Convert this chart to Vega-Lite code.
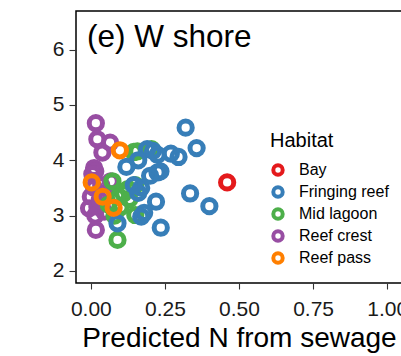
{
  "$schema": "https://vega.github.io/schema/vega-lite/v6.json",
  "autosize": {"type": "none"},
  "padding": {"left": 76, "top": 11, "right": 0, "bottom": 73},
  "width": 326,
  "height": 272,
  "background": "white",
  "config": {
    "font": "Liberation Sans",
    "view": {"stroke": "black", "strokeWidth": 1.5},
    "axis": {"domain": false, "grid": false, "tickColor": "#333333", "tickSize": 6, "tickWidth": 1.1, "labelColor": "#1a1a1a", "labelFont": "Liberation Sans", "titleFont": "Liberation Sans", "titleFontWeight": "normal", "titleColor": "black"}
  },
  "title": {"text": "(e) W shore", "anchor": "start", "frame": "group", "fontSize": 31.5, "fontWeight": "normal", "font": "Liberation Sans", "color": "black", "baseline": "alphabetic", "offset": 0, "dx": 11, "dy": 67},
  "data": {"values": [
    {"n": 0.017, "v": 4.67, "Habitat": "Reef crest"},
    {"n": 0.022, "v": 4.38, "Habitat": "Reef crest"},
    {"n": 0.065, "v": 4.32, "Habitat": "Reef crest"},
    {"n": 0.039, "v": 4.14, "Habitat": "Reef crest"},
    {"n": 0.011, "v": 3.86, "Habitat": "Reef crest"},
    {"n": 0.015, "v": 3.8, "Habitat": "Reef crest"},
    {"n": 0.005, "v": 3.75, "Habitat": "Reef crest"},
    {"n": 0.067, "v": 3.62, "Habitat": "Reef crest"},
    {"n": 0.011, "v": 3.5, "Habitat": "Reef crest"},
    {"n": 0.0, "v": 3.34, "Habitat": "Reef crest"},
    {"n": -0.006, "v": 3.13, "Habitat": "Reef crest"},
    {"n": 0.022, "v": 3.16, "Habitat": "Reef crest"},
    {"n": 0.045, "v": 3.07, "Habitat": "Reef crest"},
    {"n": 0.015, "v": 3.0, "Habitat": "Reef crest"},
    {"n": 0.017, "v": 2.74, "Habitat": "Reef crest"},
    {"n": 0.03, "v": 3.28, "Habitat": "Reef crest"},
    {"n": 0.05, "v": 3.4, "Habitat": "Reef crest"},
    {"n": 0.035, "v": 3.55, "Habitat": "Reef crest"},
    {"n": 0.157, "v": 4.16, "Habitat": "Mid lagoon"},
    {"n": 0.205, "v": 4.2, "Habitat": "Mid lagoon"},
    {"n": 0.15, "v": 3.55, "Habitat": "Mid lagoon"},
    {"n": 0.15, "v": 3.01, "Habitat": "Mid lagoon"},
    {"n": 0.073, "v": 3.62, "Habitat": "Mid lagoon"},
    {"n": 0.095, "v": 3.34, "Habitat": "Mid lagoon"},
    {"n": 0.11, "v": 3.4, "Habitat": "Mid lagoon"},
    {"n": 0.125, "v": 3.48, "Habitat": "Mid lagoon"},
    {"n": 0.09, "v": 2.56, "Habitat": "Mid lagoon"},
    {"n": 0.06, "v": 3.2, "Habitat": "Mid lagoon"},
    {"n": 0.1, "v": 3.15, "Habitat": "Mid lagoon"},
    {"n": 0.13, "v": 3.3, "Habitat": "Mid lagoon"},
    {"n": 0.145, "v": 4.15, "Habitat": "Mid lagoon"},
    {"n": 0.08, "v": 3.0, "Habitat": "Mid lagoon"},
    {"n": 0.32, "v": 4.59, "Habitat": "Fringing reef"},
    {"n": 0.357, "v": 4.22, "Habitat": "Fringing reef"},
    {"n": 0.27, "v": 4.12, "Habitat": "Fringing reef"},
    {"n": 0.296, "v": 4.06, "Habitat": "Fringing reef"},
    {"n": 0.21, "v": 4.17, "Habitat": "Fringing reef"},
    {"n": 0.19, "v": 4.2, "Habitat": "Fringing reef"},
    {"n": 0.225, "v": 4.1, "Habitat": "Fringing reef"},
    {"n": 0.16, "v": 4.0, "Habitat": "Fringing reef"},
    {"n": 0.12, "v": 3.88, "Habitat": "Fringing reef"},
    {"n": 0.225, "v": 3.78, "Habitat": "Fringing reef"},
    {"n": 0.235, "v": 3.8, "Habitat": "Fringing reef"},
    {"n": 0.17, "v": 3.5, "Habitat": "Fringing reef"},
    {"n": 0.16, "v": 3.41, "Habitat": "Fringing reef"},
    {"n": 0.335, "v": 3.4, "Habitat": "Fringing reef"},
    {"n": 0.4, "v": 3.17, "Habitat": "Fringing reef"},
    {"n": 0.22, "v": 3.25, "Habitat": "Fringing reef"},
    {"n": 0.18, "v": 3.05, "Habitat": "Fringing reef"},
    {"n": 0.236, "v": 2.78, "Habitat": "Fringing reef"},
    {"n": 0.09, "v": 2.86, "Habitat": "Fringing reef"},
    {"n": 0.17, "v": 2.98, "Habitat": "Fringing reef"},
    {"n": 0.145, "v": 3.55, "Habitat": "Fringing reef"},
    {"n": 0.2, "v": 3.72, "Habitat": "Fringing reef"},
    {"n": 0.098, "v": 4.18, "Habitat": "Reef pass"},
    {"n": 0.003, "v": 3.6, "Habitat": "Reef pass"},
    {"n": 0.04, "v": 3.34, "Habitat": "Reef pass"},
    {"n": 0.077, "v": 3.14, "Habitat": "Reef pass"},
    {"n": 0.46, "v": 3.6, "Habitat": "Bay"}
  ]},
  "mark": {"type": "point", "shape": "circle", "filled": false, "size": 175, "strokeWidth": 5, "opacity": 1},
  "encoding": {
    "x": {"field": "n", "type": "quantitative", "title": "Predicted N from sewage",
      "scale": {"domain": [-0.05, 1.05], "nice": false, "zero": false},
      "axis": {"values": [0, 0.25, 0.5, 0.75, 1], "format": ".2f", "labelFontSize": 21, "labelPadding": 9, "titleFontSize": 28, "titlePadding": 5, "labelFlush": false}},
    "y": {"field": "v", "type": "quantitative", "title": null,
      "scale": {"domain": [1.78, 6.7], "nice": false, "zero": false},
      "axis": {"values": [2, 3, 4, 5, 6], "labelFontSize": 21, "labelPadding": 5, "tickSize": 7}},
    "color": {"field": "Habitat", "type": "nominal",
      "scale": {"domain": ["Bay", "Fringing reef", "Mid lagoon", "Reef crest", "Reef pass"], "range": ["#E41A1C", "#377EB8", "#4DAF4A", "#984EA3", "#FF7F00"]},
      "legend": {"orient": "none", "legendX": 194, "legendY": 120, "titleFontSize": 20, "titleFontWeight": "normal", "titleColor": "black", "labelFontSize": 16, "labelColor": "black", "symbolSize": 88, "symbolStrokeWidth": 4, "symbolType": "circle", "rowPadding": -4, "titlePadding": 11, "labelOffset": 13}}
  }
}
